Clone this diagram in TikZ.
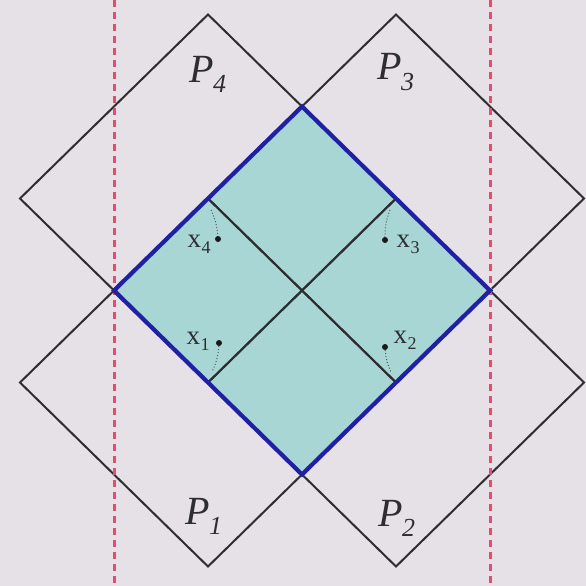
\documentclass[tikz,border=0pt]{standalone}
\usepackage{fontspec}
\setmainfont{Liberation Serif}
\newcommand{\Plab}[1]{\textit{P}\kern-1pt\raisebox{-0.55ex}{\fontsize{26}{26}\selectfont\textit{#1}}}
\newcommand{\xlab}[1]{x\kern0.5pt\raisebox{-0.5ex}{\fontsize{18}{18}\selectfont #1}}
\definecolor{bgc}{RGB}{230,225,230}
\definecolor{cyanfill}{RGB}{168,214,212}
\definecolor{blueedge}{RGB}{32,32,165}
\definecolor{edgec}{RGB}{45,45,50}
\definecolor{redc}{RGB}{228,78,108}
\tikzset{
  pedge/.style={draw=edgec, line width=2pt, line join=miter},
  bedge/.style={draw=blueedge, line width=4.2pt, line join=miter},
  reddash/.style={draw=redc, line width=3pt, dash pattern=on 7pt off 5pt},
  plabel/.style={font=\fontsize{40}{40}\selectfont, text=edgec, inner sep=0pt},
  xlabel/.style={font=\fontsize{27}{27}\selectfont, text=edgec, inner sep=0pt},
  ptdot/.style={circle, fill=black!90, inner sep=0pt, minimum size=6pt},
  guidemark/.style={draw=edgec!80, line width=1pt, dotted}
}
\begin{document}
\begin{tikzpicture}[x=1pt,y=-1pt]
\fill[bgc] (0,0) rectangle (586,586);
\useasboundingbox (0,0) rectangle (586,586);
% blue diamond vertices
\coordinate (BT) at (302,106.5);
\coordinate (BR) at (490,290.5);
\coordinate (BB) at (302,474.5);
\coordinate (BL) at (114,290.5);
% inner corners
\coordinate (Q4) at (208,198.5);
\coordinate (Q3) at (396,198.5);
\coordinate (Q1) at (208,382.5);
\coordinate (Q2) at (396,382.5);
% outer vertices
\coordinate (T4) at (208,14.5);
\coordinate (T3) at (396,14.5);
\coordinate (L4) at (20,198.5);
\coordinate (R3) at (584,198.5);
\coordinate (L1) at (20,382.5);
\coordinate (R2) at (584,382.5);
\coordinate (D1) at (208,566.5);
\coordinate (D2) at (396,566.5);
% fill
\fill[cyanfill] (BT) -- (BR) -- (BB) -- (BL) -- cycle;
% P diamonds
\path[pedge] (T4) -- (Q3) -- (Q1) -- (L4) -- cycle;
\path[pedge] (T3) -- (R3) -- (Q2) -- (Q4) -- cycle;
\path[pedge] (Q4) -- (Q2) -- (D1) -- (L1) -- cycle;
\path[pedge] (Q3) -- (R2) -- (D2) -- (Q1) -- cycle;
% red dashed lines
\coordinate (RLt) at (114,0);
\coordinate (RLb) at (114,586);
\coordinate (RRt) at (490,0);
\coordinate (RRb) at (490,586);
\path[reddash] (RLt) -- (RLb);
\path[reddash] (RRt) -- (RRb);
% blue border
\path[bedge] (BT) -- (BR) -- (BB) -- (BL) -- cycle;
% labels
\node[plabel] (p4) at (208,74) {\Plab{4}};
\node[plabel] (p3) at (396,72) {\Plab{3}};
\node[plabel] (p1) at (204,516) {\Plab{1}};
\node[plabel] (p2) at (397,518) {\Plab{2}};
% points
\node[ptdot] (x4) at (218,239) {};
\node[ptdot] (x3) at (385,240) {};
\node[ptdot] (x1) at (219,343) {};
\node[ptdot] (x2) at (385,347) {};
\node[xlabel] (lx4) at (199,244) {\xlab{4}};
\node[xlabel] (lx3) at (408,244) {\xlab{3}};
\node[xlabel] (lx1) at (198,341) {\xlab{1}};
\node[xlabel] (lx2) at (405,340) {\xlab{2}};
% small dotted marks
\coordinate (m4) at (211,210);
\coordinate (m3) at (390,210);
\coordinate (m1) at (212,372);
\coordinate (m2) at (391,372);
\draw[guidemark] (m4) to[bend left=10] (x4);
\draw[guidemark] (m3) to[bend right=10] (x3);
\draw[guidemark] (x1) to[bend left=10] (m1);
\draw[guidemark] (x2) to[bend right=10] (m2);
\end{tikzpicture}
\end{document}
